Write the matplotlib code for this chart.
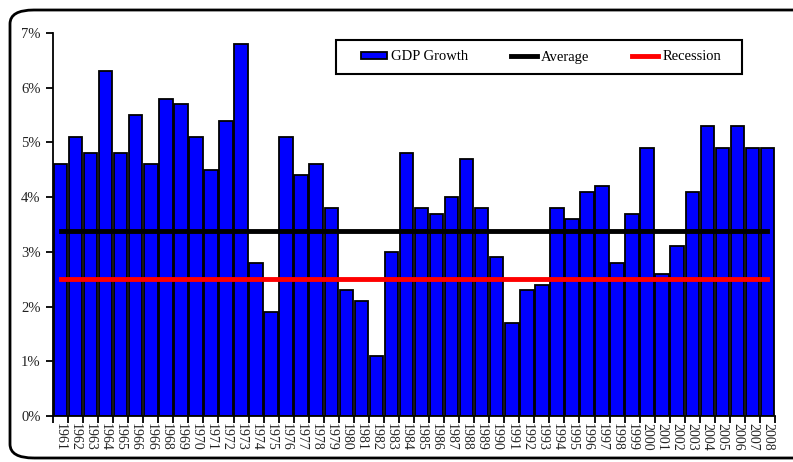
import matplotlib
matplotlib.use('Agg')
import matplotlib.pyplot as plt
from matplotlib.patches import FancyBboxPatch, Rectangle
from matplotlib.ticker import FuncFormatter
import numpy as np

# Données
annees = ['1961', '1962', '1963', '1964', '1965', '1966', '1966', '1968', '1969', '1970',
          '1971', '1972', '1973', '1974', '1975', '1976', '1977', '1978', '1979', '1980',
          '1981', '1982', '1983', '1984', '1985', '1986', '1987', '1988', '1989', '1990',
          '1991', '1992', '1993', '1994', '1995', '1996', '1997', '1998', '1999', '2000',
          '2001', '2002', '2003', '2004', '2005', '2006', '2007', '2008']
croissance = [4.6, 5.1, 4.8, 6.3, 4.8, 5.5, 4.6, 5.8, 5.7, 5.1,
              4.5, 5.4, 6.8, 2.8, 1.9, 5.1, 4.4, 4.6, 3.8, 2.3,
              2.1, 1.1, 3.0, 4.8, 3.8, 3.7, 4.0, 4.7, 3.8, 2.9,
              1.7, 2.3, 2.4, 3.8, 3.6, 4.1, 4.2, 2.8, 3.7, 4.9,
              2.6, 3.1, 4.1, 5.3, 4.9, 5.3, 4.9, 4.9]
moyenne = 3.38
recession = 2.5

plt.rcParams['font.family'] = ['Liberation Serif', 'DejaVu Serif']

W, H = 793, 462
fig = plt.figure(figsize=(W / 100, H / 100), dpi=100)
ax = fig.add_axes([53 / W, 1 - 416 / H, 722 / W, 383 / H])

x = np.arange(len(annees))
barres = ax.bar(x, croissance, width=0.9, color='#0000FF', edgecolor='black', linewidth=1.3,
                label='GDP Growth', zorder=2)
l1, = ax.plot(x, [moyenne] * len(x), color='black', linewidth=3.5, label='Average', zorder=3)
l2, = ax.plot(x, [recession] * len(x), color='#FF0000', linewidth=3.5, label='Recession', zorder=3)

ax.set_xlim(-0.5, len(x) - 0.5)
ax.set_ylim(0, 7)
ax.set_yticks(range(0, 8))
ax.yaxis.set_major_formatter(FuncFormatter(lambda v, p: '%d%%' % v))
ax.set_xticks(x)
ax.set_xticklabels(annees, rotation=270, fontsize=10, color='#222222')
ax.tick_params(axis='x', length=0, pad=5)
# petits traits entre les barres
ax.set_xticks(np.arange(-0.5, len(x), 1), minor=True)
ax.tick_params(axis='x', which='minor', length=5, width=1.3, direction='out')
ax.tick_params(axis='y', length=5, width=1.3, direction='out', labelsize=10.5,
               labelcolor='#222222', pad=4)

for s in ['top', 'right']:
    ax.spines[s].set_visible(False)
ax.spines['left'].set_linewidth(1.3)
ax.spines['bottom'].set_linewidth(1.3)

# légende sans cadre, puis cadre dessiné à part
leg = fig.legend([barres, l1, l2], ['GDP Growth', 'Average', 'Recession'],
                 loc='center', bbox_to_anchor=(541 / W, 1 - 57 / H), ncol=3, fontsize=10.5,
                 frameon=False, columnspacing=2.9, handlelength=1.8, handleheight=0.4,
                 handletextpad=0.3)
fig.patches.append(Rectangle((336 / W, 1 - 74 / H), 406 / W, 34 / H,
                             transform=fig.transFigure, fill=False, edgecolor='black',
                             linewidth=1.5))

# cadre arrondi autour de la figure
cadre = FancyBboxPatch((10 / W, 4 / H), 830 / W, 448 / H,
                       boxstyle='round,pad=0,rounding_size=0.03',
                       transform=fig.transFigure, fill=False, edgecolor='black',
                       linewidth=2, clip_on=False)
fig.patches.append(cadre)

plt.savefig('out.png', dpi=100)
